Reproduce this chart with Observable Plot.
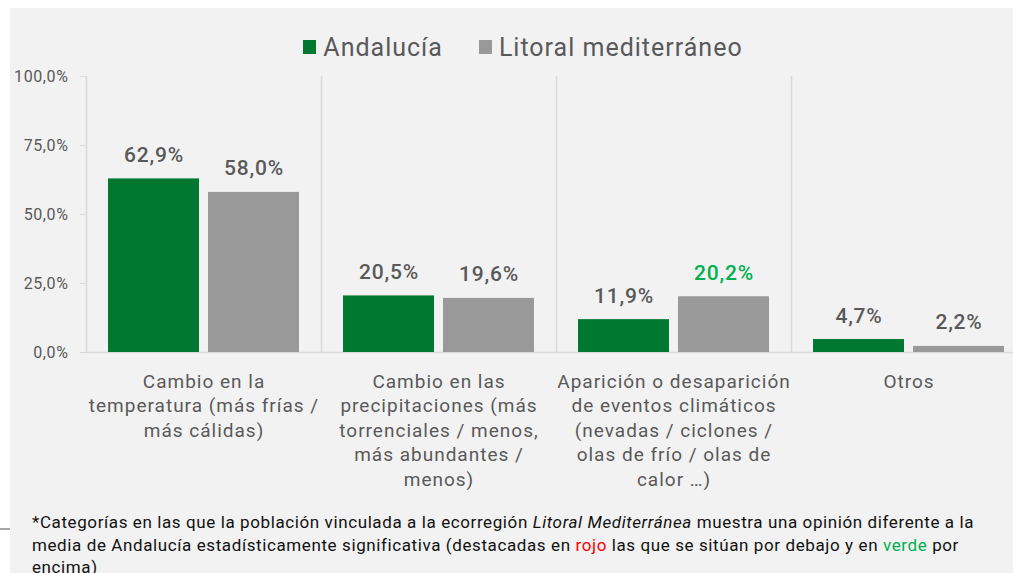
<!DOCTYPE html>
<html>
<head>
<meta charset="utf-8">
<script src="https://cdn.jsdelivr.net/npm/d3@7"></script>
<script src="https://cdn.jsdelivr.net/npm/@observablehq/plot@0.6"></script>
<style>
  html, body { margin: 0; padding: 0; background: #ffffff; overflow: hidden; }
  body { width: 1013px; height: 573px; position: relative; font-family: Roboto, "Noto Sans", sans-serif; }
  #wrap { position: absolute; left: 10px; top: 8px; width: 1030px; height: 600px; background: #f2f2f2; padding-top: 24px; box-sizing: border-box; }
  #legend { height: 30px; display: flex; justify-content: center; align-items: center; font-size: 25px; letter-spacing: 1px; color: #595959; padding-right: 4px; }
  .item { display: flex; align-items: center; margin: 0 18px; }
  .sw { width: 13px; height: 14px; margin-right: 7px; }
  #note { margin-top: 9px; padding-left: 22px; font-size: 17px; letter-spacing: 0.6px; line-height: 22.5px; color: #111111; white-space: nowrap; }
  #stub { position: absolute; left: 0; top: 528px; width: 10px; height: 1.5px; background: #a6a6a6; }
  #chart g[aria-label="fx-axis tick label"] { letter-spacing: 1px; }
  #chart g[aria-label="y-axis tick label"] { letter-spacing: 0.6px; }
  #chart g[aria-label="text"] { letter-spacing: 0.8px; }
</style>
</head>
<body>
<div id="stub"></div>
<div id="wrap">
  <div id="legend"></div>
  <div id="chart"></div>
  <div id="note">*Categorías en las que la población vinculada a la ecorregión <i>Litoral Mediterránea</i> muestra una opinión diferente a la<br>media de Andalucía estadísticamente significativa (destacadas en <span style="color:#ff0000">rojo</span> las que se sitúan por debajo y en <span style="color:#00b050">verde</span> por<br>encima)</div>
</div>
<script>
const categories = [
  "Cambio en la\ntemperatura (más frías /\nmás cálidas)",
  "Cambio en las\nprecipitaciones (más\ntorrenciales / menos,\nmás abundantes /\nmenos)",
  "Aparición o desaparición\nde eventos climáticos\n(nevadas / ciclones /\nolas de frío / olas de\ncalor …)",
  "Otros"
];
const series = ["Andalucía", "Litoral mediterráneo"];
const andalucia = [62.9, 20.5, 11.9, 4.7];
const litoral = [58.0, 19.6, 20.2, 2.2];
// significance of Litoral vs Andalucía: "up" (green), "down" (red), null
const litoralSig = [null, null, "up", null];
const yTicks = [0, 25, 50, 75, 100];

const palette = { bars: ["#00782F", "#999999"], text: "#595959", up: "#00b050", down: "#ff0000", rule: "#d9d9d9" };

const fmt = v => v.toFixed(1).replace(".", ",") + "%";

const data = categories.flatMap((c, i) => [
  { cat: c, serie: series[0], value: andalucia[i], sig: null },
  { cat: c, serie: series[1], value: litoral[i], sig: litoralSig[i] }
]);

// legend
const legend = document.getElementById("legend");
series.forEach((s, i) => {
  const it = document.createElement("div");
  it.className = "item";
  it.innerHTML = `<span class="sw" style="background:${palette.bars[i]}"></span><span>${s}</span>`;
  legend.appendChild(it);
});

const chart = Plot.plot({
  width: 1016,
  height: 440,
  marginLeft: 76,
  marginRight: 0,
  marginTop: 14,
  marginBottom: 150,
  style: { background: "transparent", fontFamily: "Roboto, 'Noto Sans', sans-serif", overflow: "visible" },
  fx: { domain: categories, padding: 0, label: null },
  x: { domain: series, paddingInner: 0.09, paddingOuter: 0.22, axis: null },
  y: { domain: [0, 100], axis: null, label: null },
  marks: [
    Plot.ruleX(categories, { fx: d => d, x: () => series[0], dx: -67.5, y1: 0, y2: 100, stroke: palette.rule, strokeWidth: 1.5 }),
    Plot.ruleY([0], { stroke: palette.rule, strokeWidth: 1.5 }),
    Plot.axisY({ ticks: yTicks, tickFormat: fmt, tickSize: 6, tickPadding: 12, stroke: palette.rule, fill: palette.text, fontSize: 16, label: null }),
    Plot.barY(data, { fx: "cat", x: "serie", y: "value", fill: d => palette.bars[series.indexOf(d.serie)] }),
    Plot.text(data, {
      fx: "cat", x: "serie", y: "value",
      text: d => fmt(d.value),
      lineAnchor: "bottom", dy: -17, fontSize: 21, fontWeight: 500,
      fill: d => d.sig === "up" ? palette.up : d.sig === "down" ? palette.down : palette.text
    }),
    Plot.axisFx({ anchor: "bottom", tickSize: 0, tickPadding: 18, fontSize: 19, lineHeight: 1.29, fill: palette.text, label: null })
  ]
});
document.getElementById("chart").appendChild(chart);
</script>
</body>
</html>
